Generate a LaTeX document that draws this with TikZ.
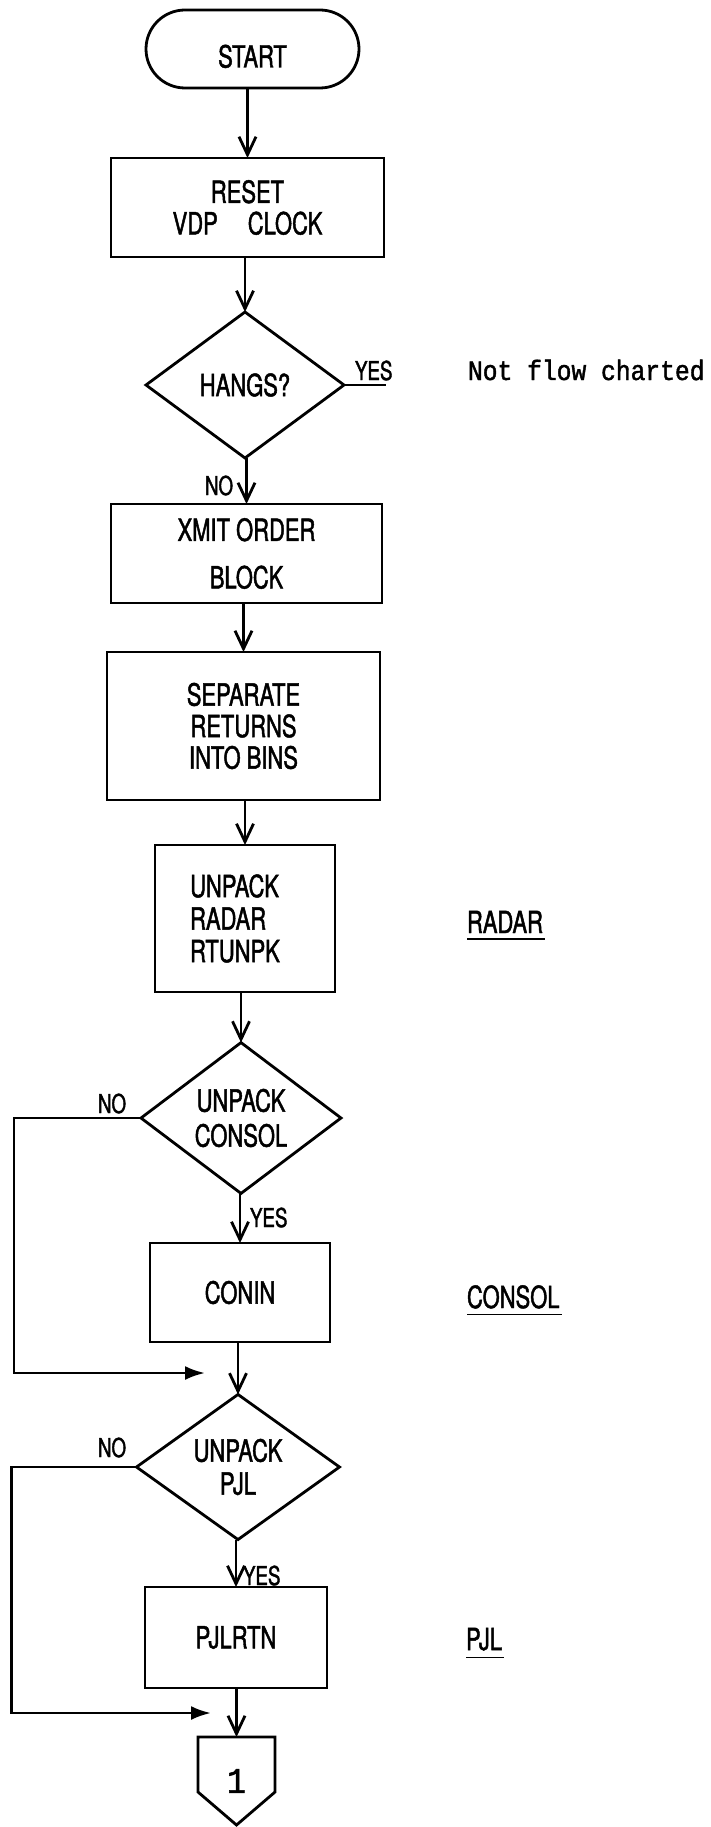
\documentclass[tikz,border=0pt]{standalone}
\usepackage{fontspec}
\setmainfont{TeX Gyre Heros}[FakeStretch=0.72, FakeBold=1.5]
\newfontfamily\typew{Liberation Mono}[FakeStretch=0.88, FakeBold=1.5]
\usetikzlibrary{shapes.geometric,shapes.misc,arrows.meta,calc}
\begin{document}
\begin{tikzpicture}[x=1pt,y=-1pt,
  every node/.style={inner sep=0pt, outer sep=0pt},
  flowline/.style={line width=2.8pt, -{Straight Barb[length=18pt,width=17pt]}},
  loopline/.style={line width=2.8pt, line join=miter, -{Latex[length=20pt,width=14pt]}},
  plainline/.style={line width=2.8pt},
  boxtext/.style={font=\fontsize{30.5}{31.5}\selectfont, align=center},
  procbox/.style={draw, line width=2.8pt, rectangle, boxtext},
  termbox/.style={draw, line width=2.8pt, rounded rectangle, boxtext},
  decbox/.style={draw, line width=2.8pt, diamond, boxtext},
  lbl/.style={font=\fontsize{26}{27}\selectfont, anchor=base west},
  sidelbl/.style={font=\fontsize{30.5}{31}\selectfont, anchor=base west},
  uline/.style={line width=1.8pt},
]
\fill[white] (0,0) rectangle (711,1827);
\useasboundingbox (0,0) rectangle (711,1827);

% main column
\node[termbox, minimum width=213pt, minimum height=78pt, text height=37pt, text depth=0pt] (start) at (252.5,49) {START};
\node[procbox, minimum width=273pt, minimum height=99pt] (reset) at (247.5,207.5) {RESET\\VDP\hspace{30pt}CLOCK};
\node[decbox, minimum width=198pt, minimum height=146pt] (d1) at (245,385) {HANGS?};
\node[procbox, minimum width=271pt, minimum height=99pt] (xmit) at (246.5,553.5) {XMIT ORDER\\[16pt]BLOCK};
\node[procbox, minimum width=273pt, minimum height=148pt] (sep) at (243.5,726) {SEPARATE\\RETURNS\\INTO BINS};
\node[procbox, minimum width=180pt, minimum height=147pt, align=left, font=\fontsize{30.5}{32.5}\selectfont] (unp) at (245,918.5) {UNPACK\\RADAR\\RTUNPK\hspace*{20pt}};
\node[decbox, minimum width=200pt, minimum height=143pt, font=\fontsize{30.5}{35}\selectfont] (d2) at (241,1118) {UNPACK\\CONSOL};
\node[procbox, minimum width=180pt, minimum height=99pt] (conin) at (240,1292.5) {CONIN};
\node[decbox, minimum width=203pt, minimum height=140pt, font=\fontsize{30.5}{33}\selectfont] (d3) at (238,1467) {UNPACK\\PJL};
\node[procbox, minimum width=182pt, minimum height=101pt] (pjlrtn) at (236,1637.5) {PJLRTN};
\node[minimum width=77pt, minimum height=88pt, font=\typew\fontsize{36}{38}\selectfont] (conn) at (236.5,1781) {1};
\draw[plainline, line join=miter] (conn.north west) -- (conn.north east) -- ($(conn.north east)+(0,55)$) -- (conn.south) -- ($(conn.north west)+(0,55)$) -- cycle;

% main flow
\draw[flowline] (reset.north |- start.south) -- (reset.north);
\draw[flowline] (d1.north |- reset.south) -- (d1.north);
\draw[flowline] (xmit.north |- d1.south) -- (xmit.north);
\draw[flowline] (sep.north |- xmit.south) -- (sep.north);
\draw[flowline] (unp.north |- sep.south) -- (unp.north);
\draw[flowline] (d2.north |- unp.south) -- (d2.north);
\draw[flowline] (conin.north |- d2.south) -- (conin.north);
\draw[flowline] (d3.north |- conin.south) -- (d3.north);
\draw[flowline] (pjlrtn.north |- d3.south) -- (pjlrtn.north);
\draw[flowline] (conn.north |- pjlrtn.south) -- (conn.north);

% YES stub of HANGS?
\coordinate (ys) at (386,385);
\draw[plainline] (d1.east) -- (ys |- d1.east);

% bypass loops
\coordinate (j1) at (205,1373);
\draw[loopline] (d2.west) -- ++(-127,0) |- (j1);
\coordinate (j2) at (211,1713);
\draw[loopline] (d3.west) -- ++(-125,0) |- (j2);

% branch labels
\node[lbl] (yes1) at (355,380) {YES};
\node[lbl] (no1) at (205,495) {NO};
\node[lbl] (no2) at (98,1113) {NO};
\node[lbl] (yes2) at (250,1227) {YES};
\node[lbl] (no3) at (98,1457) {NO};
\node[lbl] (yes3) at (243,1585) {YES};

% side notes
\node[anchor=base west, font=\typew\fontsize{28}{30}\selectfont] (nfc) at (468,380) {Not flow charted};
\node[sidelbl] (radar) at (467,933) {RADAR};
\draw[uline] ($(radar.south west)+(0,6)$) -- ($(radar.south east)+(2,6)$);
\node[sidelbl] (consol) at (467,1308) {CONSOL};
\draw[uline] ($(consol.south west)+(0,6)$) -- ($(consol.south east)+(2,6)$);
\node[sidelbl] (pjl) at (466,1650) {PJL};
\draw[uline] ($(pjl.south west)+(0,7)$) -- ($(pjl.south east)+(2,7)$);
\end{tikzpicture}
\end{document}
